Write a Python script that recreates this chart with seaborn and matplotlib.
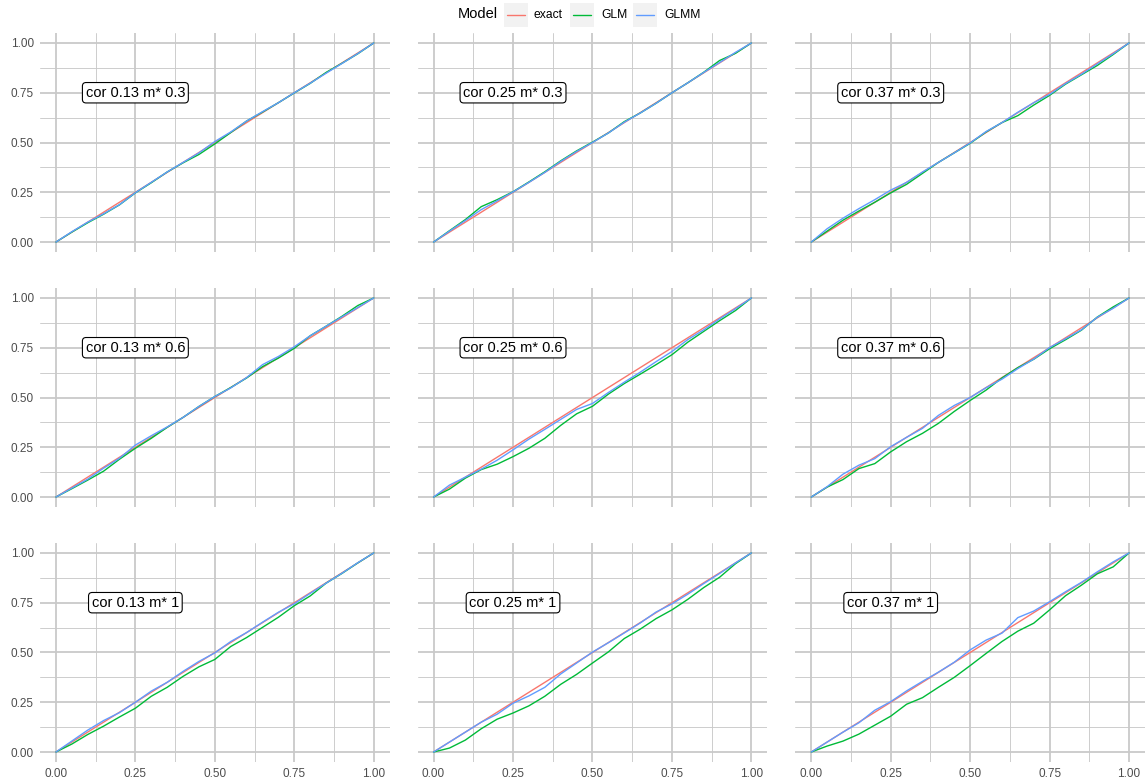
import numpy as np
import pandas as pd
import matplotlib
matplotlib.use("Agg")
import matplotlib.pyplot as plt
from matplotlib.patches import Rectangle
from matplotlib.lines import Line2D
import seaborn as sns

sns.set_theme(style="white")
plt.rcParams["font.family"] = ["Liberation Sans", "DejaVu Sans"]

# facet levels
cor_vals = [0.13, 0.25, 0.37]
m_vals = [0.3, 0.6, 1]
models = ["exact", "GLM", "GLMM"]
model_colors = ["#F8766D", "#00BA38", "#619CFF"]

# nominal quantile grid shared by the fitted curves
x_grid = [0.00, 0.05, 0.10, 0.15, 0.20, 0.25, 0.30, 0.35, 0.40, 0.45, 0.50,
          0.55, 0.60, 0.65, 0.70, 0.75, 0.80, 0.85, 0.90, 0.95, 1.00]

# exact reference line
exact_x = [0.0, 1.0]
exact_y = [0.0, 1.0]

# observed proportions, one list per (cor, m, model)
glm_013_03 = [0, .050, .097, .140, .187, .247, .298, .352, .398, .440, .493,
              .550, .608, .653, .700, .749, .797, .852, .898, .946, 1]
glmm_013_03 = [0, .052, .100, .142, .188, .248, .300, .352, .400, .448, .505,
               .553, .608, .655, .700, .750, .798, .848, .897, .947, 1]
glm_025_03 = [0, .057, .113, .178, .213, .253, .302, .353, .408, .458, .502,
              .548, .605, .648, .697, .750, .800, .853, .912, .948, 1]
glmm_025_03 = [0, .055, .108, .163, .207, .252, .300, .350, .405, .455, .500,
               .548, .602, .648, .697, .750, .800, .852, .902, .953, 1]
glm_037_03 = [0, .055, .110, .156, .200, .247, .290, .345, .400, .448, .496,
              .553, .600, .635, .688, .737, .793, .840, .887, .942, 1]
glmm_037_03 = [0, .067, .120, .168, .213, .261, .300, .352, .400, .448, .498,
               .555, .600, .652, .700, .742, .796, .843, .895, .946, 1]

glm_013_06 = [0, .042, .085, .130, .190, .245, .295, .350, .400, .455, .505,
              .550, .598, .655, .698, .747, .810, .858, .908, .962, 1]
glmm_013_06 = [0, .045, .090, .145, .195, .261, .308, .352, .400, .455, .505,
               .548, .600, .665, .706, .755, .810, .858, .905, .952, 1]
glm_025_06 = [0, .040, .095, .138, .165, .203, .245, .295, .360, .418, .456,
              .517, .570, .617, .665, .715, .778, .832, .886, .937, 1]
glmm_025_06 = [0, .060, .100, .140, .185, .237, .291, .340, .390, .440, .470,
               .525, .577, .627, .680, .731, .791, .840, .895, .946, 1]
glm_037_06 = [0, .050, .088, .143, .168, .227, .278, .320, .370, .430, .485,
              .537, .598, .650, .692, .745, .790, .838, .904, .955, 1]
glmm_037_06 = [0, .052, .115, .160, .193, .253, .300, .345, .410, .460, .500,
               .549, .592, .645, .693, .751, .795, .840, .903, .948, 1]

glm_013_1 = [0, .040, .088, .130, .176, .220, .280, .325, .380, .428, .465,
             .530, .575, .626, .677, .735, .784, .848, .897, .950, 1]
glmm_013_1 = [0, .055, .110, .158, .198, .250, .306, .350, .405, .455, .498,
              .555, .600, .652, .702, .745, .797, .848, .898, .951, 1]
glm_025_1 = [0, .020, .060, .117, .165, .196, .232, .280, .340, .390, .447,
             .503, .570, .617, .670, .714, .767, .826, .878, .946, 1]
glmm_025_1 = [0, .050, .100, .150, .190, .245, .282, .325, .392, .447, .502,
              .549, .598, .648, .703, .744, .793, .846, .897, .950, 1]
glm_037_1 = [0, .030, .055, .090, .135, .180, .240, .273, .325, .375, .434,
             .495, .555, .607, .647, .714, .785, .838, .895, .930, 1]
glmm_037_1 = [0, .050, .100, .147, .210, .253, .307, .355, .401, .451, .513,
              .562, .597, .675, .708, .755, .805, .852, .905, .955, 1]

curves = {
    (0.13, 0.3): (glm_013_03, glmm_013_03),
    (0.25, 0.3): (glm_025_03, glmm_025_03),
    (0.37, 0.3): (glm_037_03, glmm_037_03),
    (0.13, 0.6): (glm_013_06, glmm_013_06),
    (0.25, 0.6): (glm_025_06, glmm_025_06),
    (0.37, 0.6): (glm_037_06, glmm_037_06),
    (0.13, 1): (glm_013_1, glmm_013_1),
    (0.25, 1): (glm_025_1, glmm_025_1),
    (0.37, 1): (glm_037_1, glmm_037_1),
}

rows = []
for (c, m), (glm, glmm) in curves.items():
    for xv, yv in zip(exact_x, exact_y):
        rows.append((c, m, "exact", xv, yv))
    for xv, yv in zip(x_grid, glm):
        rows.append((c, m, "GLM", xv, yv))
    for xv, yv in zip(x_grid, glmm):
        rows.append((c, m, "GLMM", xv, yv))
df = pd.DataFrame(rows, columns=["cor", "m", "Model", "x", "y"])

W, H = 1148, 783
fig, axes = plt.subplots(3, 3, figsize=(W / 100, H / 100), dpi=100)
fig.subplots_adjust(left=40 / W, right=1145 / W, top=1 - 33 / H,
                    bottom=1 - 762 / H, wspace=0.080, hspace=0.164)

grid_col = "#C9C9C9"
major = [0, 0.25, 0.5, 0.75, 1.0]
minor = [0.125, 0.375, 0.625, 0.875]

for i, m in enumerate(m_vals):
    for j, c in enumerate(cor_vals):
        ax = axes[i, j]
        sub = df[(df["cor"] == c) & (df["m"] == m)]
        sns.lineplot(data=sub, x="x", y="y", hue="Model", hue_order=models,
                     palette=model_colors, estimator=None, sort=False,
                     linewidth=1.0, legend=False, ax=ax)
        ax.set_xlim(-0.05, 1.05)
        ax.set_ylim(-0.05, 1.05)
        ax.set_xticks(major)
        ax.set_yticks(major)
        ax.set_xticks(minor, minor=True)
        ax.set_yticks(minor, minor=True)
        ax.grid(True, which="major", color=grid_col, linewidth=1.3)
        ax.grid(True, which="minor", color=grid_col, linewidth=0.65)
        ax.set_axisbelow(True)
        for s in ax.spines.values():
            s.set_visible(False)
        ax.set_xlabel("")
        ax.set_ylabel("")
        ax.tick_params(which="minor", length=0)
        ax.tick_params(which="major", length=3, width=0.8, color="#333333",
                       labelsize=8.5, labelcolor="#4D4D4D", pad=1.5)
        ax.set_xticklabels(["0.00", "0.25", "0.50", "0.75", "1.00"])
        ax.set_yticklabels(["0.00", "0.25", "0.50", "0.75", "1.00"])
        if i < 2:
            ax.tick_params(axis="x", which="major", length=0, labelbottom=False)
        if j > 0:
            ax.tick_params(axis="y", which="major", length=0, labelleft=False)
        ax.text(0.25, 0.75, f"cor {c} m* {m}", ha="center", va="center",
                fontsize=10.5, color="black",
                bbox=dict(boxstyle="round,pad=0.22,rounding_size=0.25",
                          facecolor="white", edgecolor="black", linewidth=0.8))


# legend strip across the top
def fx(px):
    return px / W


def fy(py):
    return 1 - py / H


fig.text(fx(458), fy(14.5), "Model", fontsize=10.5, color="black",
         ha="left", va="center")
key_boxes = [(504, 528), (570, 594), (633, 657)]
label_x = [534, 601, 664]
for (x0, x1), lx, name, col in zip(key_boxes, label_x, models, model_colors):
    fig.patches.append(Rectangle((fx(x0), fy(26.5)), fx(x1) - fx(x0),
                                 fy(3) - fy(26.5), transform=fig.transFigure,
                                 facecolor="#F2F2F2", edgecolor="none"))
    fig.lines.append(Line2D([fx(x0 + 3), fx(x1 - 3)], [fy(14.5), fy(14.5)],
                            transform=fig.transFigure, color=col, linewidth=1.0))
    fig.text(fx(lx), fy(14.5), name, fontsize=8.7, color="black",
             ha="left", va="center")

fig.savefig("out.png", dpi=100, facecolor="white")
